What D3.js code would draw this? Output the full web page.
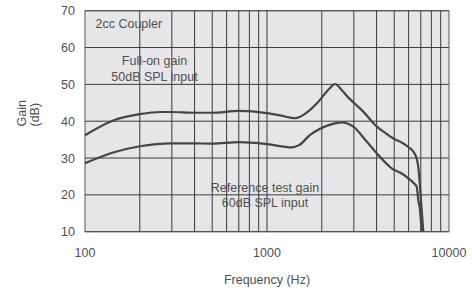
<!DOCTYPE html>
<html>
<head>
<script src="https://cdn.jsdelivr.net/npm/d3@7"></script>
<style>
  html, body { margin: 0; padding: 0; background: #fff; }
  text { font-family: "Liberation Sans", Arial, sans-serif; font-size: 12.5px; fill: #505050; }
</style>
</head>
<body>
<svg id="chart" width="472" height="291"></svg>
<script>
// frequency response
var fullOnFreq = [100, 143, 200, 260, 300, 400, 500, 700, 1000, 1200, 1425, 1650, 1875, 2200, 2364, 2600, 2800, 3000, 3380, 4000, 4500, 4950, 5500, 5975, 6400, 6650, 6780, 6930, 7080, 7225];
var fullOnGain = [36.2, 40.2, 41.9, 42.5, 42.5, 42.3, 42.3, 42.8, 42.2, 41.5, 40.8, 42.3, 44.8, 48.8, 50.1, 48.2, 46.4, 45.0, 42.6, 38.6, 36.7, 35.3, 34.2, 33.0, 31.6, 29.8, 27.6, 22.2, 15.9, 10];

var refFreq = [100, 143, 200, 300, 400, 500, 700, 1000, 1367, 1500, 1720, 2200, 2570, 2980, 3500, 4006, 4843, 5500, 5975, 6366, 6645, 6780, 6930, 7080];
var refGain = [28.6, 31.5, 33.2, 34.0, 34.0, 33.9, 34.3, 33.8, 32.9, 33.5, 36.2, 39.0, 39.7, 38.5, 34.7, 31.3, 27.2, 25.8, 24.5, 23.3, 22.2, 18.6, 15.9, 10];

var yTicks = [10, 20, 30, 40, 50, 60, 70];
var xTickLabels = [100, 1000, 10000];
var xGrid = [200, 300, 400, 500, 600, 700, 800, 900, 1000, 2000, 3000, 4000, 5000, 6000, 7000, 8000, 9000];

var svg = d3.select("#chart");
var plotL = 85, plotR = 449, plotT = 10.7, plotB = 231.7;

var x = d3.scaleLog().domain([100, 10000]).range([plotL, plotR]);
var y = d3.scaleLinear().domain([10, 70]).range([plotB, plotT]);

// plot background
svg.append("rect")
    .attr("x", plotL).attr("y", plotT)
    .attr("width", plotR - plotL).attr("height", plotB - plotT)
    .attr("fill", "#e6e6e8");

// grid
svg.selectAll(".vgrid").data(xGrid).enter().append("line")
    .attr("x1", d => x(d)).attr("x2", d => x(d))
    .attr("y1", plotT).attr("y2", plotB)
    .attr("stroke", "#3a3a3a").attr("stroke-width", 1);

svg.selectAll(".hgrid").data(yTicks).enter().append("line")
    .attr("x1", plotL).attr("x2", plotR)
    .attr("y1", d => y(d)).attr("y2", d => y(d))
    .attr("stroke", "#3a3a3a").attr("stroke-width", 1);

svg.append("rect")
    .attr("x", plotL).attr("y", plotT)
    .attr("width", plotR - plotL).attr("height", plotB - plotT)
    .attr("fill", "none").attr("stroke", "#555").attr("stroke-width", 1);

// curves
var line = d3.line()
    .x(d => x(d[0]))
    .y(d => y(d[1]))
    .curve(d3.curveMonotoneX);

[d3.zip(fullOnFreq, fullOnGain), d3.zip(refFreq, refGain)].forEach(function(pts) {
    svg.append("path")
        .attr("d", line(pts))
        .attr("fill", "none")
        .attr("stroke", "#454545")
        .attr("stroke-width", 2.2);
});

// axis labels
svg.selectAll(".ylab").data(yTicks).enter().append("text")
    .attr("x", 75).attr("y", d => y(d))
    .attr("dy", "0.36em")
    .attr("text-anchor", "end")
    .text(d => d);

svg.selectAll(".xlab").data(xTickLabels).enter().append("text")
    .attr("x", d => x(d)).attr("y", 257)
    .attr("text-anchor", "middle")
    .text(d => d);

svg.append("text")
    .attr("x", 267).attr("y", 284)
    .attr("text-anchor", "middle")
    .text("Frequency (Hz)");

var ylab = svg.append("text")
    .attr("transform", "translate(26,126.5) rotate(-90)")
    .attr("text-anchor", "start");
ylab.append("tspan").attr("x", 0).attr("y", 0).text("Gain");
ylab.append("tspan").attr("x", 0).attr("y", 12.5).text("(dB)");

// annotations
svg.append("text").attr("x", 95.5).attr("y", 28).text("2cc Coupler");
svg.append("text").attr("x", 154.5).attr("y", 65).attr("text-anchor", "middle").text("Full-on gain");
svg.append("text").attr("x", 154.5).attr("y", 80.5).attr("text-anchor", "middle").text("50dB SPL input");
svg.append("text").attr("x", 265).attr("y", 191.5).attr("text-anchor", "middle").text("Reference test gain");
svg.append("text").attr("x", 265).attr("y", 207).attr("text-anchor", "middle").text("60dB SPL input");
</script>
</body>
</html>
